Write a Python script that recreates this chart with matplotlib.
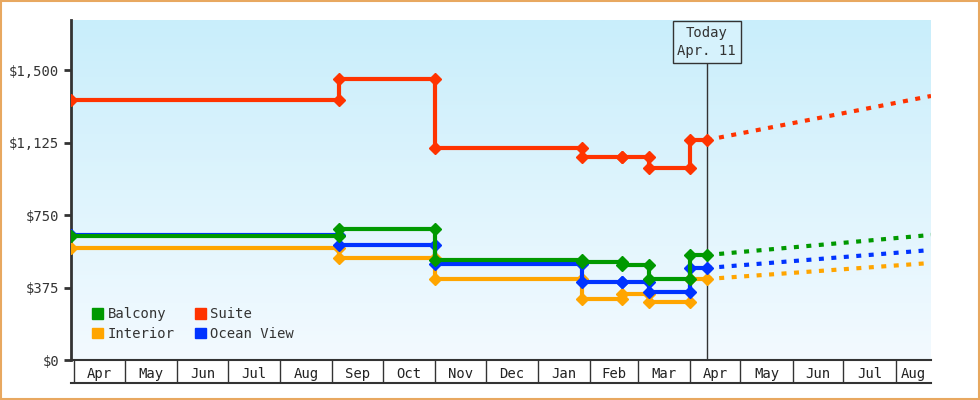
import numpy as np
import pandas as pd
import matplotlib
matplotlib.use('Agg')
import matplotlib.pyplot as plt
import matplotlib.dates as mdates
from matplotlib.lines import Line2D
from matplotlib.patches import Rectangle

# price change dates and the price after each change
change_dates = ['2022-03-30', '2022-09-05', '2022-11-01', '2023-01-27', '2023-02-20', '2023-03-08', '2023-04-01']
balcony = [641, 678, 517, 507, 491, 419, 543]
suite = [1345, 1453, 1097, 1050, 1050, 993, 1138]
ocean_view = [647, 595, 497, 403, 403, 352, 476]
interior = [579, 528, 419, 316, 341, 300, 419]
today = '2023-04-11'
forecast_end = '2023-08-22'
forecast = {'Balcony': 647, 'Suite': 1366, 'Ocean View': 569, 'Interior': 502}

series = [('Balcony', balcony, '#009900'), ('Interior', interior, '#ffa500'),
          ('Suite', suite, '#ff3300'), ('Ocean View', ocean_view, '#0033ff')]
draw_order = {'Interior': 3, 'Ocean View': 4, 'Balcony': 5, 'Suite': 6}

month_starts = pd.date_range('2022-04-01', '2023-08-01', freq='MS')

plt.rcParams['font.family'] = ['DejaVu Sans Mono']
fig = plt.figure(figsize=(9.8, 4), dpi=100)
ax = fig.add_axes([71 / 980, 40 / 400, 860 / 980, 340 / 400])

xmin = mdates.date2num(pd.Timestamp('2022-03-30'))
xmax = mdates.date2num(pd.Timestamp(forecast_end))
ymax = 1759
ax.set_xlim(xmin, xmax)
ax.set_ylim(0, ymax)

# gradient background
grad = np.linspace(0, 1, 256).reshape(-1, 1)
cmap = matplotlib.colors.LinearSegmentedColormap.from_list('bg', ['#f3faff', '#c9eefb'])
ax.imshow(grad, cmap=cmap, aspect='auto', origin='lower', extent=[xmin, xmax, 0, ymax], zorder=0)

dts = mdates.date2num(pd.to_datetime(change_dates))
t_today = mdates.date2num(pd.Timestamp(today))
t_end = xmax
for name, vals, col in series:
    xs, ys = [dts[0]], [vals[0]]
    for i in range(1, len(vals)):
        xs += [dts[i], dts[i]]
        ys += [vals[i - 1], vals[i]]
    xs.append(t_today)
    ys.append(vals[-1])
    z = draw_order[name]
    ax.plot(xs, ys, color=col, lw=3, marker='D', ms=6, zorder=z, label=name)
    ax.plot([t_today, t_end], [vals[-1], forecast[name]], color=col, lw=3,
            ls=(0, (1.2, 1.8)), zorder=z)

# today marker
ax.axvline(t_today, ymin=0, ymax=(360 - 60) / 340, color='#333333', lw=1, zorder=2)
ax.text(t_today, ymax - 30, 'Today\nApr. 11', ha='center', va='top', fontsize=10,
        color='#333333', linespacing=1.4, zorder=8,
        bbox=dict(boxstyle='square,pad=0.35', fc='#d6f2fc', ec='#333333', lw=1))

# y axis
ax.set_yticks([0, 375, 750, 1125, 1500])
ax.set_yticklabels(['$0', '$375', '$750', '$1,125', '$1,500'])
ax.tick_params(axis='y', length=5, width=2, color='#333333', labelsize=10, labelcolor='#333333')
for s in ['top', 'right']:
    ax.spines[s].set_visible(False)
ax.spines['left'].set_linewidth(2)
ax.spines['left'].set_color('#333333')
ax.spines['bottom'].set_linewidth(1.5)
ax.spines['bottom'].set_color('#333333')

# x axis: boxed month labels
ms = mdates.date2num(month_starts)
ax.set_xticks(ms[ms > xmin])
ax.set_xticklabels([])
ax.tick_params(axis='x', length=16.5, width=1, color='#333333', direction='out')
mids = []
labels = []
for m in month_starts:
    nxt = m + pd.offsets.MonthBegin(1)
    mid = (mdates.date2num(m) + min(mdates.date2num(nxt), xmax)) / 2
    mids.append(mid)
    labels.append(m.strftime('%b'))
ax.set_xticks(mids, minor=True)
ax.set_xticklabels(labels, minor=True, fontsize=10, color='#222222')
ax.tick_params(axis='x', which='minor', length=0, pad=5)
fig.add_artist(Line2D([71 / 980, 931 / 980], [17 / 400, 17 / 400], color='#333333', lw=1.5))

ax.legend(handles=[Rectangle((0, 0), 1, 1, color=c) for _, _, c in series],
          labels=[n for n, _, _ in series], ncol=2, loc='lower left',
          bbox_to_anchor=(0.01, 0.02), frameon=False, fontsize=10,
          handlelength=0.8, handleheight=0.8, handletextpad=0.3,
          columnspacing=1.5, labelspacing=0.4, labelcolor='#333333')

# outer border
fig.add_artist(Rectangle((0.001, 0.002), 0.998, 0.996, transform=fig.transFigure,
                         fill=False, ec='#e8a860', lw=1.5))

fig.savefig('out.png', dpi=100)
